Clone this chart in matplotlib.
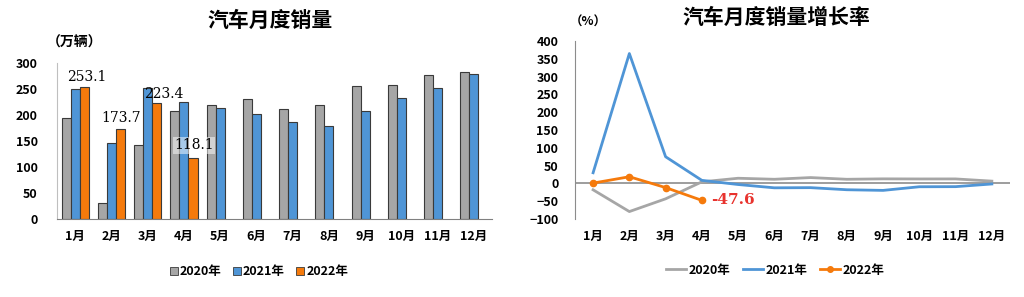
import matplotlib
matplotlib.use("Agg")
import matplotlib.pyplot as plt
from matplotlib.lines import Line2D
from matplotlib.patches import Patch
import numpy as np

plt.rcParams['font.family'] = ['Noto Sans CJK SC', 'DejaVu Sans']

# 数据
months = ["1月", "2月", "3月", "4月", "5月", "6月", "7月", "8月", "9月", "10月", "11月", "12月"]
years = ["2020年", "2021年", "2022年"]
sales_2020 = [194.1, 31.0, 143.0, 207.0, 219.4, 230.0, 211.2, 218.6, 256.5, 257.3, 276.6, 283.1]
sales_2021 = [250.3, 145.5, 252.6, 225.2, 212.8, 201.5, 186.4, 179.9, 207.1, 233.3, 252.2, 278.6]
sales_2022 = [253.1, 173.7, 223.4, 118.1]
growth_2020 = [-18.0, -79.1, -43.3, 4.4, 14.5, 11.6, 16.4, 11.6, 12.8, 12.5, 12.6, 6.4]
growth_2021 = [29.9, 364.8, 74.9, 8.6, -3.1, -12.4, -11.9, -17.8, -19.6, -9.4, -9.1, -1.6]
growth_2022 = [0.9, 18.7, -11.7, -47.6]

c_gray = "#A6A6A6"
c_blue = "#4F95D6"
c_orange = "#F57A0C"
edge = "#3A3A3A"

fig = plt.figure(figsize=(10.24, 2.97), dpi=100)

# 左图：月度销量
ax1 = fig.add_axes([0.0557, 0.2626, 0.4248, 0.525])
x = np.arange(len(months))
w = 0.25
ax1.bar(x - w, sales_2020, w, color=c_gray, edgecolor=edge, linewidth=0.8)
ax1.bar(x, sales_2021, w, color=c_blue, edgecolor=edge, linewidth=0.8)
x22 = np.arange(len(sales_2022))
ax1.bar(x22 + w, sales_2022, w, color=c_orange, edgecolor=edge, linewidth=0.8)
ax1.set_xlim(-0.5, 11.5)
ax1.set_ylim(0, 300)
ax1.set_yticks(range(0, 301, 50))
ax1.set_xticks(x)
ax1.set_xticklabels(months, fontsize=9, fontweight='bold')
for lab in ax1.get_yticklabels():
    lab.set_fontsize(9)
    lab.set_fontweight('bold')
ax1.tick_params(length=0, pad=8)
ax1.tick_params(axis='y', pad=14)
for s in ["top", "right"]:
    ax1.spines[s].set_visible(False)
ax1.spines["left"].set_color("#BFBFBF")
ax1.spines["bottom"].set_color("#808080")

# 数据标签
lbl_font = dict(family='DejaVu Serif', fontsize=10)
ax1.text(0.33, sales_2022[0] + 20, f"{sales_2022[0]}", ha='center', va='center', **lbl_font)
ax1.text(1.27, sales_2022[1] + 20, f"{sales_2022[1]}", ha='center', va='center', **lbl_font)
ax1.text(2.45, sales_2022[2] + 17, f"{sales_2022[2]}", ha='center', va='center', **lbl_font)
ax1.text(3.28, sales_2022[3] + 24, f"{sales_2022[3]}", ha='center', va='center',
         bbox=dict(facecolor='white', alpha=0.5, edgecolor='none', pad=1), **lbl_font)

fig.text(0.264, 0.93, "汽车月度销量", ha='center', va='center', fontsize=15, fontweight='bold')
fig.text(0.046, 0.855, "（万辆）", ha='left', va='center', fontsize=10, fontweight='bold')

h1 = [Patch(facecolor=c, edgecolor=edge, linewidth=0.6) for c in (c_gray, c_blue, c_orange)]
fig.legend(h1, years, loc='center', bbox_to_anchor=(0.253, 0.085), ncol=3, frameon=False,
           handlelength=0.6, handleheight=0.6, handletextpad=0.2, columnspacing=0.9,
           prop=dict(weight='bold', size=9))

# 右图：增长率
ax2 = fig.add_axes([0.5615, 0.2626, 0.4248, 0.5993])
ax2.plot(x, growth_2020, color=c_gray, lw=2)
ax2.plot(x, growth_2021, color=c_blue, lw=2)
ax2.plot(x22, growth_2022, color=c_orange, lw=2, marker='o', markersize=4.5)
ax2.axhline(0, color="#8C8C8C", lw=1.2, zorder=0)
ax2.set_xlim(-0.5, 11.5)
ax2.set_ylim(-100, 400)
ax2.set_yticks(range(-100, 401, 50))
ax2.set_xticks(x)
ax2.set_xticklabels(months, fontsize=9, fontweight='bold')
for lab in ax2.get_yticklabels():
    lab.set_fontsize(9)
    lab.set_fontweight('bold')
ax2.tick_params(length=0, pad=8)
ax2.tick_params(axis='y', pad=12)
for s in ["top", "right", "bottom"]:
    ax2.spines[s].set_visible(False)
ax2.spines["left"].set_color("#8C8C8C")
ax2.text(3 + 0.25, growth_2022[3], f"{growth_2022[3]}", color="#E8332E", ha='left', va='center',
         fontsize=11, fontweight='bold', family='DejaVu Serif')

fig.text(0.758, 0.94, "汽车月度销量增长率", ha='center', va='center', fontsize=15, fontweight='bold')
fig.text(0.556, 0.925, "（%）", ha='left', va='center', fontsize=9, fontweight='bold')

h2 = [Line2D([], [], color=c_gray, lw=2),
      Line2D([], [], color=c_blue, lw=2),
      Line2D([], [], color=c_orange, lw=2, marker='o', markersize=4)]
fig.legend(h2, years, loc='center', bbox_to_anchor=(0.757, 0.09), ncol=3, frameon=False,
           handlelength=1.6, handletextpad=0.2, columnspacing=1.0,
           prop=dict(weight='bold', size=9))

fig.savefig("out.png", dpi=100)
